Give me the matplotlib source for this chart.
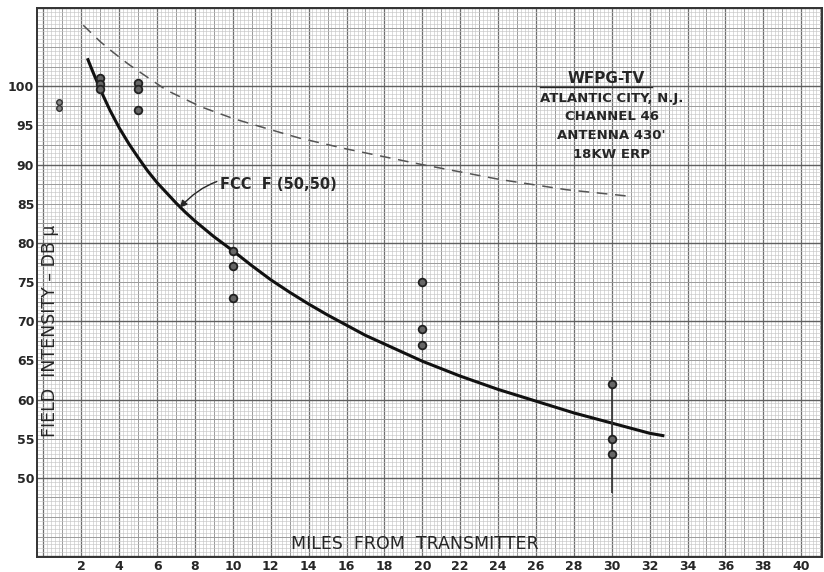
import numpy as np
import matplotlib
matplotlib.use('Agg')
import matplotlib.pyplot as plt

# FCC F(50,50) curve
fcc_miles = [2.35, 2.6, 3.0, 3.5, 4.0, 4.5, 5.0, 5.5, 6.0, 6.5, 7.0, 7.5, 8.0, 9.0, 10.0,
             11.0, 12.0, 13.0, 14.0, 15.0, 16.0, 17.0, 18.0, 19.0, 20.0, 22.0, 24.0,
             26.0, 28.0, 30.0, 32.0, 32.7]
fcc_db = [103.4, 101.9, 99.6, 97.0, 94.7, 92.7, 90.9, 89.2, 87.7, 86.4, 85.1, 83.9, 82.8,
          80.8, 79.0, 77.1, 75.3, 73.7, 72.2, 70.8, 69.5, 68.2, 67.1, 66.0, 64.9, 63.0,
          61.3, 59.8, 58.3, 57.0, 55.7, 55.4]

# dashed upper curve
dash_miles = [2.1, 3.0, 3.7, 4.5, 5.1, 6.5, 8.3, 10.0, 11.8, 13.5, 16.0, 20.0, 24.1, 27.6, 30.8]
dash_db = [107.8, 105.7, 104.3, 102.8, 101.8, 99.5, 97.4, 95.9, 94.6, 93.4, 92.0, 90.0, 88.1,
           86.8, 86.0]

# measured points
pt_miles = [3, 3, 3, 5, 5, 5, 10, 10, 10, 20, 20, 20, 30, 30, 30]
pt_db = [101.0, 100.3, 99.6, 100.4, 99.6, 97.0, 79.0, 77.0, 73.0, 75.0, 69.0, 67.0,
         62.0, 55.0, 53.0]
small_miles = [0.8, 0.8]
small_db = [98.0, 97.2]

station_name = "WFPG-TV"
station_text = ["ATLANTIC CITY, N.J.", "CHANNEL 46", "ANTENNA 430'", "18KW ERP"]
xticks = list(range(2, 41, 2))
yticks = list(range(50, 101, 5))

ink = '#262626'

fig = plt.figure(figsize=(8.24, 5.72), dpi=100)
ax = fig.add_axes([37 / 824, 15 / 572, 785 / 824, 549 / 572])
ax.set_xlim(-0.34, 41.1)
ax.set_ylim(39.9, 110)

# graph paper
for x in np.arange(0, 41.2, 0.2):
    ax.axvline(x, color='#c6c6c6', lw=0.45, zorder=0)
for x in np.arange(0, 41.2, 1.0):
    ax.axvline(x, color='#9c9c9c', lw=0.7, zorder=0)
for x in np.arange(0, 41.2, 2.0):
    ax.axvline(x, color='#6e6e6e', lw=0.9, zorder=0)
for y in np.arange(40, 110.1, 0.5):
    ax.axhline(y, color='#c6c6c6', lw=0.45, zorder=0)
for y in np.arange(40, 110.1, 2.5):
    ax.axhline(y, color='#9c9c9c', lw=0.7, zorder=0)
for y in np.arange(40, 110.1, 10):
    ax.axhline(y, color='#606060', lw=1.0, zorder=0)

ax.plot(fcc_miles, fcc_db, color='#111111', lw=2.2, solid_joinstyle='round', zorder=3)
ax.plot(dash_miles, dash_db, color='#555555', lw=1.1, dashes=(7, 5), zorder=3)
ax.vlines(30, 48.1, 62.9, color='#333333', lw=1.2, zorder=3)
ax.plot(pt_miles, pt_db, 'o', ms=5.5, mfc='#666666', mec='#222222', mew=1.3, zorder=4)
ax.plot(small_miles, small_db, 'o', ms=4, mfc='#888888', mec='#333333', mew=1.0, zorder=4)

ax.annotate('FCC  F (50,50)', xy=(7.2, 84.5), xytext=(9.3, 87.4),
            fontsize=10.5, fontweight='bold', color=ink, va='center', ha='left',
            arrowprops=dict(arrowstyle='-|>', color=ink, lw=1.0,
                            connectionstyle='arc3,rad=0.35', shrinkA=0, shrinkB=0))

ax.text(29.7, 101.0, station_name, fontsize=11, fontweight='bold', ha='center',
        va='center', color=ink)
ax.plot([26.2, 32.1], [99.85, 99.85], color=ink, lw=1.0)
for i, line in enumerate(station_text):
    ax.text(30.0, 98.5 - i * 2.4, line, fontsize=9.5, fontweight='bold', ha='center',
            va='center', color=ink)

ax.text(19.6, 41.5, 'MILES  FROM  TRANSMITTER', fontsize=12.5, ha='center',
        va='center', color=ink)
ax.text(0.35, 68.8, 'FIELD  INTENSITY \u2013 DB \u03bc', fontsize=12.5, rotation=90,
        ha='center', va='center', color=ink)

ax.set_xticks(xticks)
ax.set_yticks(yticks)
ax.tick_params(length=0, labelsize=9, pad=2, colors=ink)
for lab in ax.get_xticklabels() + ax.get_yticklabels():
    lab.set_fontweight('bold')
for s in ax.spines.values():
    s.set_color('#333333')
    s.set_linewidth(1.4)

fig.savefig('out.png', dpi=100)
